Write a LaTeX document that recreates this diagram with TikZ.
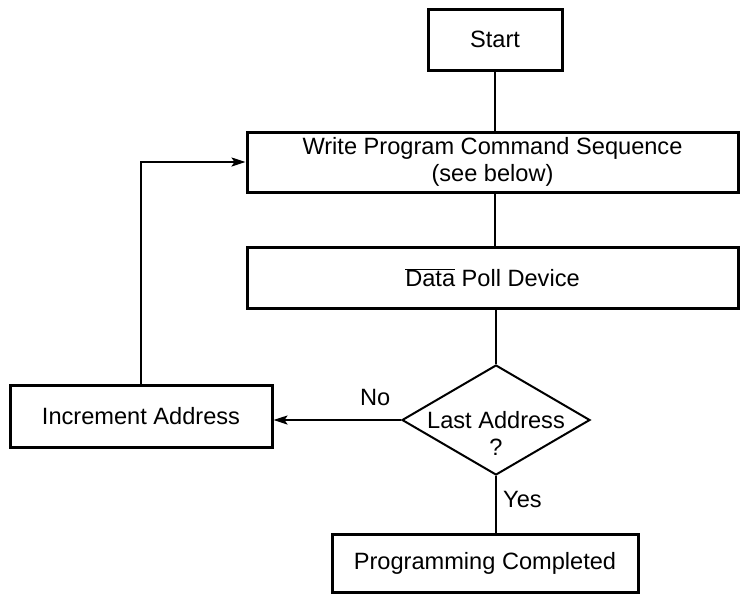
\documentclass[tikz,border=0pt]{standalone}
\usepackage{fontspec}
\setmainfont{Liberation Sans}
\usetikzlibrary{shapes.geometric,arrows.meta}

\begin{document}
\begin{tikzpicture}[
		x=1pt, y=-1pt,
		font=\fontsize{23.6}{27}\selectfont,
		every node/.style={inner sep=0pt},
		box/.style={draw, line width=3pt},
		decision/.style={draw, diamond, line width=2pt},
		link/.style={line width=2pt},
		arrow/.style={-{Stealth[length=14pt, width=9pt, inset=3pt]}},
		tag/.style={anchor=base west}
		]
	\useasboundingbox (0, 0) rectangle (741, 600);
	
	% Start
	\node[box, minimum width=134, minimum height=61] (start) at (495, 39.5) {Start};
	
	% Write program command sequence
	\node[box, minimum width=491, minimum height=60, align=center] (write) at (492.5, 162)
		{Write Program Command Sequence\\(see below)};
	
	% Data poll
	\node[box, minimum width=491, minimum height=61] (poll) at (492.5, 277.5)
		{$\overline{\mbox{Data}}$ Poll Device};
	
	% Last address?
	\node[decision, minimum width=188, minimum height=110] (last) at (496, 420) {};
	\node[align=center] (lastlabel) at (496, 433) {Last Address\\?};
	
	% Increment address
	\node[box, minimum width=262, minimum height=62] (inc) at (141, 416) {Increment Address};
	
	% Programming completed
	\node[box, minimum width=306, minimum height=58] (done) at (485, 563) {Programming Completed};
	
	% Branch labels
	\node[tag] (no) at (360, 405) {No};
	\node[tag] (yes) at (503, 507) {Yes};
	
	% Connectors
	\draw[link] (start.south) -- (start.south |- write.north);
	\draw[link] (write.south -| start) -- (poll.north -| start);
	\draw[link] (poll.south -| last) -- (last.north);
	\draw[link] (last.south) -- (last.south |- done.north);
	\draw[link, arrow] (last.west) -- (last.west -| inc.east);
	\draw[link, arrow] (inc.north) |- (write.west);
	
\end{tikzpicture}
\end{document}
